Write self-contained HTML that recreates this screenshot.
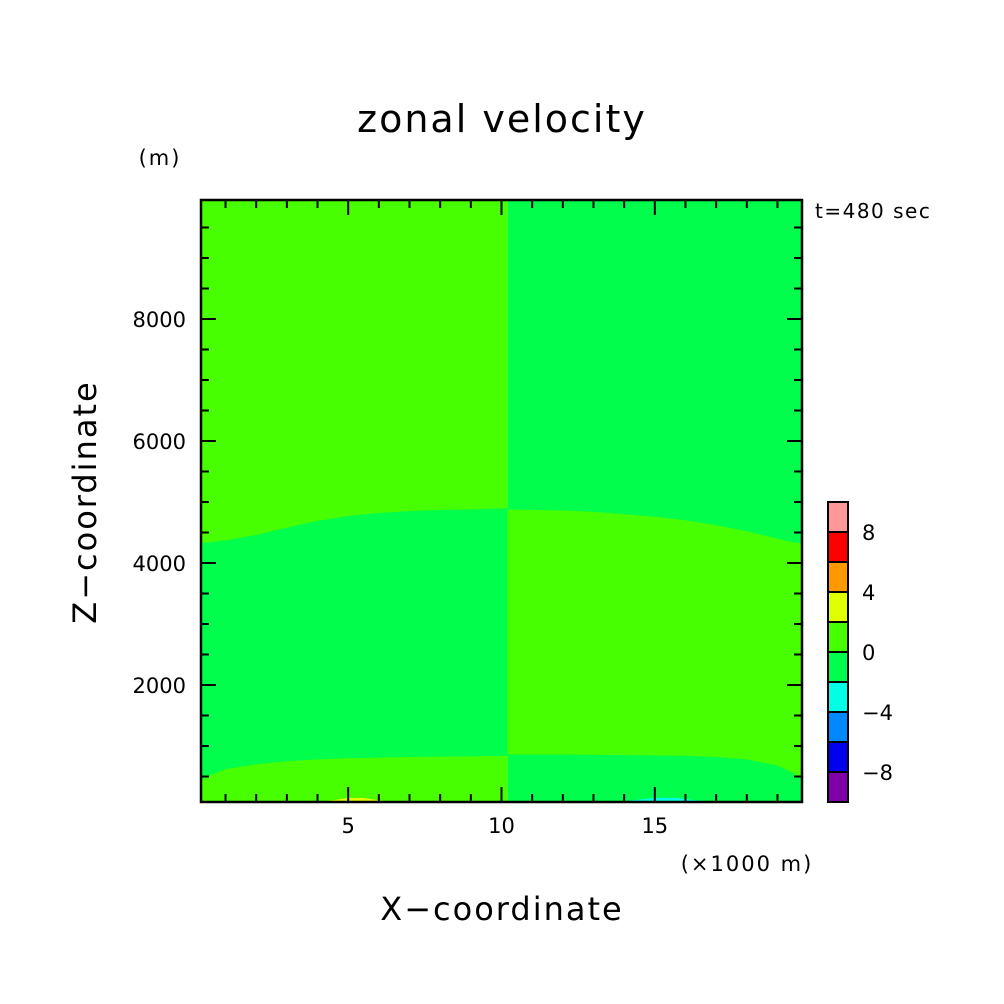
<!DOCTYPE html>
<html><head><meta charset="utf-8"><style>
html,body{margin:0;padding:0;background:#fff}
svg{display:block}
text{font-family:"DejaVu Sans","Liberation Sans",sans-serif;fill:#000}
</style></head><body>
<svg id="chart" width="1004" height="1004" viewBox="0 0 1004 1004" xmlns="http://www.w3.org/2000/svg">
<rect width="1004" height="1004" fill="#fff"/>
<text x="502" y="132" font-size="38" text-anchor="middle" letter-spacing="2">zonal velocity</text>
<text x="160" y="165" font-size="21" text-anchor="middle" letter-spacing="2">(m)</text>
<text x="815" y="218" font-size="20" letter-spacing="1.5">t=480 sec</text>
<text x="747" y="871" font-size="21" text-anchor="middle" letter-spacing="2">(×1000 m)</text>
<text x="502" y="920" font-size="32" text-anchor="middle" letter-spacing="2">X−coordinate</text>
<text x="0" y="0" font-size="32" text-anchor="middle" letter-spacing="2" transform="translate(96,502) rotate(-90)">Z−coordinate</text>
<g id="field"></g>
<g id="axes"></g>
<g id="cbar"></g>
</svg>
<script>
const xTickValues=[5,10,15];
const yTickValues=[2000,4000,6000,8000];
const cbarLevels=[-10,-8,-6,-4,-2,0,2,4,6,8,10];
const cbarColors=["#7f00a8","#0000ee","#0088ff","#00ffe6","#00ff4c","#47ff00","#e0ff00","#ff9900","#ff0000","#ff9999"];
const cbarLabels=[-8,-4,0,4,8];
const leftX=[0.2,0.5,1,2,3,4,5,6,7,8,9,10.2];
const leftUpperZ=[4330,4340,4370,4460,4580,4690,4770,4820,4850,4870,4880,4900];
const leftLowerZ=[430,520,620,700,750,780,800,810,820,825,830,840];
const rightX=[10.2,11,12,13,14,15,16,17,18,19,19.5,19.8];
const rightUpperZ=[4880,4870,4860,4840,4800,4760,4700,4620,4520,4400,4340,4320];
const rightLowerZ=[860,860,860,855,850,845,840,820,780,680,560,460];
const bumpPosX=[4,4.5,5,5.5,6,6.5];
const bumpPosZ=[80,110,150,150,110,80];
const bumpNegX=[13.8,14.3,15,15.7,16.3,16.8];
const bumpNegZ=[80,110,150,150,110,80];
const NS="http://www.w3.org/2000/svg";
const X0=0.2,X1=19.8,PX0=201,PX1=802;
function xs(v){return PX0+(v-X0)*(PX1-PX0)/(X1-X0);}
function ys(z){return 685-(z-2000)*0.061;}
const TOP=200,BOT=802;
function mk(tag,attrs,parent){const e=document.createElementNS(NS,tag);for(const k in attrs)e.setAttribute(k,attrs[k]);parent.appendChild(e);return e;}
const field=document.getElementById('field');
const axes=document.getElementById('axes');
const cb=document.getElementById('cbar');
const POS=cbarColors[5],NEG=cbarColors[4];
const xm=xs(10.2);
let r=mk('rect',{x:PX0,y:TOP,width:xm-PX0,height:BOT-TOP,fill:POS},field);


r=mk('rect',{x:xm,y:TOP,width:PX1-xm,height:BOT-TOP,fill:NEG},field);


function band(X,U,L,fill,name){
  let d='M'+xs(X[0])+','+ys(U[0]);
  for(let i=1;i<X.length;i++)d+=' L'+xs(X[i])+','+ys(U[i]);
  for(let i=X.length-1;i>=0;i--)d+=' L'+xs(X[i])+','+ys(L[i]);
  const p=mk('path',{d:d+' Z',fill:fill},field);
  
  
}
band(leftX,leftUpperZ,leftLowerZ,NEG,'left-negative-band');
band(rightX,rightUpperZ,rightLowerZ,POS,'right-positive-band');
function bump(X,Z,fill,name){
  let d='M'+xs(X[0])+','+BOT;
  for(let i=0;i<X.length;i++)d+=' L'+xs(X[i])+','+ys(Z[i]);
  d+=' L'+xs(X[X.length-1])+','+BOT+' Z';
  const p=mk('path',{d:d,fill:fill},field);
  
  
}
bump(bumpPosX,bumpPosZ,cbarColors[6],'positive-bump');
bump(bumpNegX,bumpNegZ,cbarColors[3],'negative-bump');
// frame
const fr=mk('rect',{x:PX0,y:TOP,width:PX1-PX0,height:BOT-TOP,fill:'none',stroke:'#000','stroke-width':2.5},axes);


// x ticks
for(let v=1;v<=19;v++){
  const major=xTickValues.includes(v);const L=major?15:8;const x=xs(v);
  mk('line',{x1:x,y1:BOT,x2:x,y2:BOT-L,stroke:'#000','stroke-width':2},axes);
  mk('line',{x1:x,y1:TOP,x2:x,y2:TOP+L,stroke:'#000','stroke-width':2},axes);
}
xTickValues.forEach(v=>{
  const t=mk('text',{x:xs(v),y:BOT+31,'font-size':21,'text-anchor':'middle'},axes);t.textContent=v;
  
  
});
for(let z=500;z<=9500;z+=500){
  const major=yTickValues.includes(z);const L=major?15:8;const y=ys(z);
  mk('line',{x1:PX0,y1:y,x2:PX0+L,y2:y,stroke:'#000','stroke-width':2},axes);
  mk('line',{x1:PX1,y1:y,x2:PX1-L,y2:y,stroke:'#000','stroke-width':2},axes);
}
yTickValues.forEach(v=>{
  const t=mk('text',{x:186,y:ys(v)+8,'font-size':21,'text-anchor':'end'},axes);t.textContent=v;
  
  
});
// colorbar
const CBX=828,CBW=20,CBT=502,CBB=802;
function cy(v){return CBB-(v-cbarLevels[0])*(CBB-CBT)/(cbarLevels[cbarLevels.length-1]-cbarLevels[0]);}
cbarColors.forEach((c,i)=>{
  const b=mk('rect',{x:CBX,y:cy(cbarLevels[i+1]),width:CBW,height:cy(cbarLevels[i])-cy(cbarLevels[i+1]),fill:c,stroke:'#000','stroke-width':2},cb);
  
  
});
cbarLabels.forEach(v=>{
  const t=mk('text',{x:862,y:cy(v)+8,'font-size':21},cb);t.textContent=v<0?'−'+(-v):v;
  
  
});
</script>
</body></html>
